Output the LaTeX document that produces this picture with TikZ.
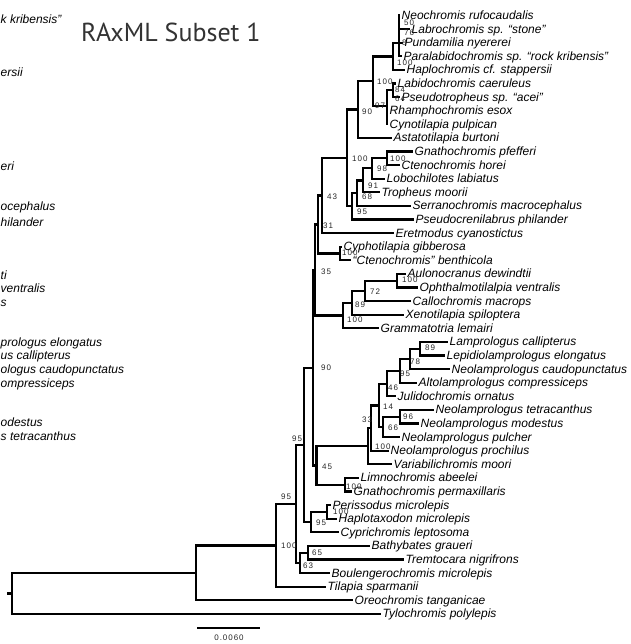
\documentclass[tikz,border=0pt]{standalone}
\usepackage{fontspec}
\setmainfont{Liberation Sans}
\newfontfamily\titlefont{PT Sans}
\newfontfamily\bsfont[LetterSpace=12]{Liberation Sans}
\begin{document}
\begin{tikzpicture}[x=1pt,y=-1pt,
  br/.style={line width=2.2pt},
  lab/.style={anchor=west, inner xsep=1.5pt, inner ysep=0pt, text height=11pt, text depth=3pt, font=\fontsize{12}{12}\selectfont\itshape},
  frag/.style={lab, anchor=west, inner xsep=0pt},
  bs/.style={anchor=west, inner sep=0pt, text=black!85, font=\bsfont\fontsize{8}{8}\selectfont},
]
\useasboundingbox (0,0) rectangle (630,644);

% title
\node[anchor=base west, inner sep=0pt, text=black!80, font=\titlefont\fontsize{26}{26}\selectfont] (title) at (81,42) {RAxML Subset 1};

% fragments of neighbouring panel
\node[frag] (fr1) at (0.5,19.5) {k kribensis”};
\node[frag] (fr2) at (0.5,73) {ersii};
\node[frag] (fr3) at (0.5,167) {eri};
\node[frag] (fr4) at (0.5,207) {ocephalus};
\node[frag] (fr5) at (0.5,222) {hilander};
\node[frag] (fr6) at (0.5,275) {ti};
\node[frag] (fr7) at (0.5,288) {ventralis};
\node[frag] (fr8) at (0.5,302) {s};
\node[frag] (fr9) at (0.5,342) {prologus elongatus};
\node[frag] (fr10) at (0.5,355) {us callipterus};
\node[frag] (fr11) at (0.5,369) {ologus caudopunctatus};
\node[frag] (fr12) at (0.5,383) {ompressiceps};
\node[frag] (fr13) at (0.5,422) {odestus};
\node[frag] (fr14) at (0.5,436) {s tetracanthus};

% internal nodes
\coordinate (stub) at (7,593.5);
\coordinate (R0) at (12,593.5);
\coordinate (A) at (196,573);
\coordinate (B) at (276,545.5);
\coordinate (C) at (296,504);
\coordinate (E) at (300,563);
\coordinate (D) at (308,552.7);
\coordinate (F) at (304,445);
\coordinate (G) at (311,522);
\coordinate (H) at (327,512);
\coordinate (J) at (313,367.8);
\coordinate (DD) at (316.5,465.5);
\coordinate (LG) at (345,484.7);
\coordinate (CC) at (368,446.2);
\coordinate (BB) at (371,428.1);
\coordinate (N14) at (379,405.5);
\coordinate (N46) at (387,384);
\coordinate (N95) at (400,370.8);
\coordinate (N78) at (410,358.9);
\coordinate (N89) at (420,348.7);
\coordinate (N66) at (383,426.9);
\coordinate (N96) at (400,416.7);
\coordinate (N35) at (315,270);
\coordinate (N31) at (318,224.5);
\coordinate (V) at (322,195.5);
\coordinate (E1) at (343,315.5);
\coordinate (E2) at (352,302.8);
\coordinate (E3) at (365,290.9);
\coordinate (E4) at (397,280.7);
\coordinate (Y) at (340,253.5);
\coordinate (T) at (347,158);
\coordinate (U) at (352,206.4);
\coordinate (U2) at (357,193.2);
\coordinate (N68) at (363,180.6);
\coordinate (N91) at (372,168.4);
\coordinate (N98) at (387,158.3);
\coordinate (X) at (358,109.6);
\coordinate (P) at (373,81.3);
\coordinate (K) at (393,56.5);
\coordinate (L) at (399,43);
\coordinate (Q2) at (387,106);
\coordinate (Q) at (393,90.3);

% tips
\node[lab] (t1) at (400,15.5) {Neochromis rufocaudalis};
\node[lab] (t2) at (410,29.1) {Labrochromis sp. “stone”};
\node[lab] (t3) at (403,42.7) {Pundamilia nyererei};
\node[lab] (t4) at (402,56.3) {Paralabidochromis sp. “rock kribensis”};
\node[lab] (t5) at (405,69.9) {Haplochromis cf. stappersii};
\node[lab] (t6) at (396,83.5) {Labidochromis caeruleus};
\node[lab] (t7) at (400,97.1) {Pseudotropheus sp. “acei”};
\node[lab] (t8) at (388,110.7) {Rhamphochromis esox};
\node[lab] (t9) at (388,124.3) {Cynotilapia pulpican};
\node[lab] (t10) at (392,137.9) {Astatotilapia burtoni};
\node[lab] (t11) at (413,151.5) {Gnathochromis pfefferi};
\node[lab] (t12) at (400,165.1) {Ctenochromis horei};
\node[lab] (t13) at (385,178.7) {Lobochilotes labiatus};
\node[lab] (t14) at (380,192.3) {Tropheus moorii};
\node[lab] (t15) at (411,205.9) {Serranochromis macrocephalus};
\node[lab] (t16) at (414,219.5) {Pseudocrenilabrus philander};
\node[lab] (t17) at (394,233.1) {Eretmodus cyanostictus};
\node[lab] (t18) at (342,246.7) {Cyphotilapia gibberosa};
\node[lab] (t19) at (351,260.3) {“Ctenochromis” benthicola};
\node[lab] (t20) at (406,273.9) {Aulonocranus dewindtii};
\node[lab] (t21) at (418,287.5) {Ophthalmotilalpia ventralis};
\node[lab] (t22) at (411,301.1) {Callochromis macrops};
\node[lab] (t23) at (404,314.7) {Xenotilapia spiloptera};
\node[lab] (t24) at (379,328.3) {Grammatotria lemairi};
\node[lab] (t25) at (448,341.9) {Lamprologus callipterus};
\node[lab] (t26) at (445,355.5) {Lepidiolamprologus elongatus};
\node[lab] (t27) at (450,369.1) {Neolamprologus caudopunctatus};
\node[lab] (t28) at (417,382.7) {Altolamprologus compressiceps};
\node[lab] (t29) at (396,396.3) {Julidochromis ornatus};
\node[lab] (t30) at (434,409.9) {Neolamprologus tetracanthus};
\node[lab] (t31) at (419,423.5) {Neolamprologus modestus};
\node[lab] (t32) at (400,437.1) {Neolamprologus pulcher};
\node[lab] (t33) at (389,450.7) {Neolamprologus prochilus};
\node[lab] (t34) at (392,464.3) {Variabilichromis moori};
\node[lab] (t35) at (359,477.9) {Limnochromis abeelei};
\node[lab] (t36) at (352,491.5) {Gnathochromis permaxillaris};
\node[lab] (t37) at (331,505.1) {Perissodus microlepis};
\node[lab] (t38) at (337,518.7) {Haplotaxodon microlepis};
\node[lab] (t39) at (339,532.3) {Cyprichromis leptosoma};
\node[lab] (t40) at (370,545.9) {Bathybates graueri};
\node[lab] (t41) at (404,559.5) {Tremtocara nigrifrons};
\node[lab] (t42) at (330,573.1) {Boulengerochromis microlepis};
\node[lab] (t43) at (326,586.7) {Tilapia sparmanii};
\node[lab] (t44) at (353,600.3) {Oreochromis tanganicae};
\node[lab] (t45) at (381,613.9) {Tylochromis polylepis};

% branches
\draw[br] (stub) -- (R0);
\draw[br] (R0) |- (A);  \draw[br] (R0) |- (t45.west);
\draw[br] (A) |- (B);   \draw[br] (A) |- (t44.west);
\draw[br] (B) |- (C);   \draw[br] (B) |- (t43.west);
\draw[br] (C) |- (F);   \draw[br] (C) |- (E);
\draw[br] (E) |- (D);   \draw[br] (E) |- (t42.west);
\draw[br] (D) |- (t40.west); \draw[br] (D) |- (t41.west);
\draw[br] (F) |- (J);   \draw[br] (F) |- (G);
\draw[br] (G) |- (H);   \draw[br] (G) |- (t39.west);
\draw[br] (H) |- (t37.west); \draw[br] (H) |- (t38.west);
\draw[br] (J) |- (N35); \draw[br] (J) |- (DD);
\draw[br] (DD) |- (CC); \draw[br] (DD) |- (LG);
\draw[br] (LG) |- (t35.west); \draw[br] (LG) |- (t36.west);
\draw[br] (CC) |- (BB); \draw[br] (CC) |- (t34.west);
\draw[br] (BB) |- (N14); \draw[br] (BB) |- (t33.west);
\draw[br] (N14) |- (N46); \draw[br] (N14) |- (N66);
\draw[br] (N46) |- (N95); \draw[br] (N46) |- (t29.west);
\draw[br] (N95) |- (N78); \draw[br] (N95) |- (t28.west);
\draw[br] (N78) |- (N89); \draw[br] (N78) |- (t27.west);
\draw[br] (N89) |- (t25.west); \draw[br] (N89) |- (t26.west);
\draw[br] (N66) |- (N96); \draw[br] (N66) |- (t32.west);
\draw[br] (N96) |- (t30.west); \draw[br] (N96) |- (t31.west);
\draw[br] (N35) |- (N31); \draw[br] (N35) |- (E1);
\draw[br] (N31) |- (V);  \draw[br] (N31) |- (Y);
\draw[br] (Y) |- (t18.west); \draw[br] (Y) |- (t19.west);
\draw[br] (E1) |- (E2); \draw[br] (E1) |- (t24.west);
\draw[br] (E2) |- (E3); \draw[br] (E2) |- (t23.west);
\draw[br] (E3) |- (E4); \draw[br] (E3) |- (t22.west);
\draw[br] (E4) |- (t20.west); \draw[br] (E4) |- (t21.west);
\draw[br] (V) |- (T);   \draw[br] (V) |- (t17.west);
\draw[br] (T) |- (X);   \draw[br] (T) |- (U);
\draw[br] (U) |- (U2);  \draw[br] (U) |- (t16.west);
\draw[br] (U2) |- (N68); \draw[br] (U2) |- (t15.west);
\draw[br] (N68) |- (N91); \draw[br] (N68) |- (t14.west);
\draw[br] (N91) |- (N98); \draw[br] (N91) |- (t13.west);
\draw[br] (N98) |- (t11.west); \draw[br] (N98) |- (t12.west);
\draw[br] (X) |- (P);   \draw[br] (X) |- (t10.west);
\draw[br] (P) |- (K);   \draw[br] (P) |- (Q2);
\draw[br] (K) |- (L);   \draw[br] (K) |- (t5.west);
\draw[br] (L) |- (t1.west); \draw[br] (L) |- (t2.west);
\draw[br] (L) |- (t3.west); \draw[br] (L) |- (t4.west);
\draw[br] (Q2) |- (Q);  \draw[br] (Q2) |- (t8.west); \draw[br] (Q2) |- (t9.west);
\draw[br] (Q) |- (t6.west); \draw[br] (Q) |- (t7.west);

% bootstrap values
\node[bs] (b1) at (404,23) {50};
\node[bs] (b2) at (404,33) {76};
\node[bs] (b3) at (402,43) {8};
\node[bs] (b4) at (397,63) {100};
\node[bs] (b5) at (377,82) {100};
\node[bs] (b6) at (395,90) {84};
\node[bs] (b7) at (395,99) {64};
\node[bs] (b8) at (375,106) {97};
\node[bs] (b9) at (362,112) {90};
\node[bs] (b10) at (352,159) {100};
\node[bs] (b11) at (390,159) {100};
\node[bs] (b12) at (377,169) {98};
\node[bs] (b13) at (368,186) {91};
\node[bs] (b14) at (362,197) {68};
\node[bs] (b15) at (357,212) {95};
\node[bs] (b16) at (327,197) {43};
\node[bs] (b17) at (323,226) {31};
\node[bs] (b18) at (342,253) {100};
\node[bs] (b19) at (321,272) {35};
\node[bs] (b20) at (402,280) {100};
\node[bs] (b21) at (370,292) {72};
\node[bs] (b22) at (355,305) {89};
\node[bs] (b23) at (347,320) {100};
\node[bs] (b24) at (425,348) {89};
\node[bs] (b25) at (410,362) {78};
\node[bs] (b26) at (400,374) {95};
\node[bs] (b27) at (388,388) {46};
\node[bs] (b28) at (383,407) {14};
\node[bs] (b29) at (403,417) {96};
\node[bs] (b30) at (362,420) {33};
\node[bs] (b31) at (388,428) {66};
\node[bs] (b32) at (375,447) {100};
\node[bs] (b33) at (321,368) {90};
\node[bs] (b34) at (322,467) {45};
\node[bs] (b35) at (346,487) {100};
\node[bs] (b36) at (281,497) {95};
\node[bs] (b37) at (292,439) {95};
\node[bs] (b38) at (333,512) {100};
\node[bs] (b39) at (316,523) {95};
\node[bs] (b40) at (281,546) {100};
\node[bs] (b41) at (312,553) {65};
\node[bs] (b42) at (303,566) {63};

% scale bar
\coordinate (sb1) at (197,628);
\coordinate (sb2) at (260,628);
\draw[br] (sb1) -- (sb2);
\node[bs, anchor=center] (sblab) at (229,638) {0.0060};
\end{tikzpicture}
\end{document}
